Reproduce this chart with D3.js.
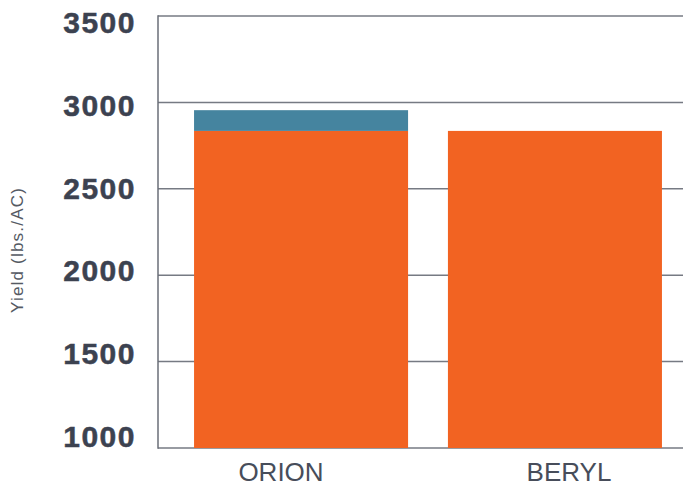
<!DOCTYPE html>
<html>
<head>
<meta charset="utf-8">
<script src="https://cdn.jsdelivr.net/npm/d3@7"></script>
<style>
  html, body { margin: 0; padding: 0; background: #fff; }
  svg { display: block; }
</style>
</head>
<body>
<div id="chart"></div>
<script>
// ---- data ----
const categories = ["ORION", "BERYL"];
const baseValues = [2835, 2835];
const extraValues = [120, 0];
const yTicks = [1000, 1500, 2000, 2500, 3000, 3500];
const yTitle = "Yield (lbs./AC)";

// ---- layout ----
const W = 683, H = 487;
const svg = d3.select("#chart").append("svg").attr("width", W).attr("height", H);

const y = d3.scaleLinear().domain([1000, 3500]).range([448, 16]);
const yLabel = d3.scaleLinear().domain([1000, 3500]).range([447, 33]);
const x = d3.scaleBand().domain(categories).range([158, 698])
  .paddingInner(0.157).paddingOuter(0.142);
const xLabel = d3.scalePoint().domain(categories).range([281, 569]);

// gridlines
svg.append("g").selectAll("line").data(yTicks).join("line")
  .attr("x1", 158).attr("x2", W)
  .attr("y1", d => y(d)).attr("y2", d => y(d))
  .attr("stroke", "#767a83").attr("stroke-width", 1.5);

// bars
const rows = categories.map((c, i) => ({ cat: c, base: baseValues[i], extra: extraValues[i] }));
svg.append("g").selectAll("rect").data(rows).join("rect")
  .attr("x", d => x(d.cat)).attr("width", x.bandwidth())
  .attr("y", d => y(d.base)).attr("height", d => y(1000) - y(d.base))
  .attr("fill", "#f26322");
svg.append("g").selectAll("rect").data(rows.filter(d => d.extra > 0)).join("rect")
  .attr("x", d => x(d.cat)).attr("width", x.bandwidth())
  .attr("y", d => y(d.base + d.extra)).attr("height", d => y(d.base) - y(d.base + d.extra))
  .attr("fill", "#45849f");

// left axis line
svg.append("line").attr("x1", 158).attr("x2", 158).attr("y1", y(3500) - 0.75).attr("y2", y(1000) + 0.75)
  .attr("stroke", "#6a6e77").attr("stroke-width", 1.5);

// y tick labels
svg.append("g").selectAll("text").data(yTicks).join("text")
  .attr("x", 136).attr("y", d => yLabel(d))
  .attr("text-anchor", "end")
  .attr("font-family", "Liberation Sans, Arial, sans-serif")
  .attr("font-weight", "bold").attr("font-size", 30)
  .attr("letter-spacing", 1.5)
  .attr("stroke", "#3c4250").attr("stroke-width", 0.5)
  .attr("fill", "#3c4250")
  .text(d => d);

// x labels
svg.append("g").selectAll("text").data(categories).join("text")
  .attr("x", d => xLabel(d)).attr("y", 481)
  .attr("text-anchor", "middle")
  .attr("font-family", "Liberation Sans, Arial, sans-serif")
  .attr("font-size", 26)
  .attr("fill", "#474d5a")
  .text(d => d);

// y title
svg.append("text")
  .attr("transform", "translate(23,250) rotate(-90)")
  .attr("text-anchor", "middle")
  .attr("font-family", "Liberation Sans, Arial, sans-serif")
  .attr("font-size", 17)
  .attr("letter-spacing", 1.2)
  .attr("fill", "#555a63")
  .text(yTitle);
</script>
</body>
</html>
